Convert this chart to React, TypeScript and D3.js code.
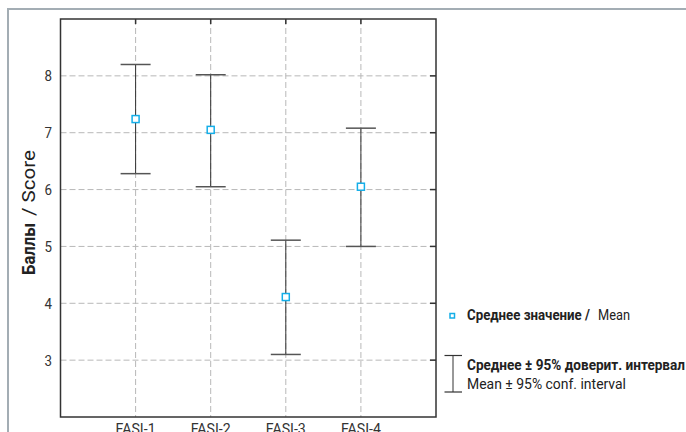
import { useRef, useEffect } from 'react';
import * as d3 from 'd3';

const categories = ['FASI-1', 'FASI-2', 'FASI-3', 'FASI-4'];
const means = [7.24, 7.05, 4.11, 6.05];
const upper = [8.2, 8.02, 5.11, 7.08];
const lower = [6.28, 6.05, 3.1, 5.0];
const yTicks = [3, 4, 5, 6, 7, 8];

const FONT = "Roboto, 'DejaVu Sans', sans-serif";

const App = () => {
  const svgRef = useRef<SVGSVGElement>(null);

  useEffect(() => {
    const svg = d3.select(svgRef.current);
    svg.selectAll('*').remove();
    const width = 686;
    const height = 432;
    const margin = { top: 19, left: 60.5 };
    const plotRight = 436;
    const plotBottom = 417;

    // outer panel frame
    svg.append('rect')
      .attr('x', 8).attr('y', 9)
      .attr('width', width + 10).attr('height', height + 10)
      .attr('fill', 'none')
      .attr('stroke', '#a3adb4')
      .attr('stroke-width', 2);

    const x = d3.scaleLinear()
      .domain([0, categories.length + 1])
      .range([margin.left, plotRight]);

    const y = d3.scaleLinear()
      .domain([2, 9])
      .range([plotBottom, margin.top]);

    const grid = svg.append('g')
      .attr('stroke', '#b8b8b8')
      .attr('stroke-width', 1)
      .attr('stroke-dasharray', '6,3');

    grid.selectAll('line.h')
      .data(yTicks)
      .join('line')
      .attr('class', 'h')
      .attr('x1', margin.left).attr('x2', plotRight)
      .attr('y1', d => y(d)).attr('y2', d => y(d));

    grid.selectAll('line.v')
      .data(categories)
      .join('line')
      .attr('class', 'v')
      .attr('x1', (d, i) => x(i + 1)).attr('x2', (d, i) => x(i + 1))
      .attr('y1', margin.top).attr('y2', plotBottom);

    // frame
    svg.append('rect')
      .attr('x', margin.left).attr('y', margin.top)
      .attr('width', plotRight - margin.left)
      .attr('height', plotBottom - margin.top)
      .attr('fill', 'none')
      .attr('stroke', '#333')
      .attr('stroke-width', 1.5);

    // inner ticks on top and right
    svg.append('g')
      .selectAll('line')
      .data(categories)
      .join('line')
      .attr('x1', (d, i) => x(i + 1)).attr('x2', (d, i) => x(i + 1))
      .attr('y1', margin.top).attr('y2', margin.top + 5)
      .attr('stroke', '#333').attr('stroke-width', 1.5);

    svg.append('g')
      .selectAll('line')
      .data(yTicks)
      .join('line')
      .attr('x1', plotRight - 6).attr('x2', plotRight)
      .attr('y1', d => y(d)).attr('y2', d => y(d))
      .attr('stroke', '#333').attr('stroke-width', 1.5);

    // y tick labels
    svg.append('g')
      .selectAll('text')
      .data(yTicks)
      .join('text')
      .attr('x', 52)
      .attr('y', d => y(d))
      .attr('dy', '0.36em')
      .attr('text-anchor', 'end')
      .attr('font-family', FONT)
      .attr('font-size', 15)
      .attr('textLength', 7.5)
      .attr('lengthAdjust', 'spacingAndGlyphs')
      .attr('fill', '#333')
      .text(d => d);

    // x labels (cut by the bottom edge as in the source)
    svg.append('g')
      .selectAll('text')
      .data(categories)
      .join('text')
      .attr('x', (d, i) => x(i + 1) - 20)
      .attr('y', 434)
      .attr('font-family', FONT)
      .attr('font-size', 14)
      .attr('textLength', 40)
      .attr('lengthAdjust', 'spacingAndGlyphs')
      .attr('fill', '#333')
      .text(d => d);

    // y axis title
    const yt = svg.append('g')
      .attr('transform', 'translate(35,275) rotate(-90)')
      .attr('font-family', FONT)
      .attr('font-size', 19)
      .attr('fill', '#222');
    yt.append('text').attr('x', 0).attr('font-weight', 'bold')
      .attr('textLength', 52).attr('lengthAdjust', 'spacingAndGlyphs')
      .text('Баллы');
    yt.append('text').attr('x', 59)
      .attr('textLength', 66).attr('lengthAdjust', 'spacingAndGlyphs')
      .text('/ Score');

    // error bars
    const bars = svg.append('g');
    bars.selectAll('line.stem')
      .data(categories)
      .join('line')
      .attr('class', 'stem')
      .attr('x1', (d, i) => x(i + 1)).attr('x2', (d, i) => x(i + 1))
      .attr('y1', (d, i) => y(upper[i])).attr('y2', (d, i) => y(lower[i]))
      .attr('stroke', '#333').attr('stroke-width', 1);

    [upper, lower].forEach(arr => {
      bars.append('g')
        .selectAll('line')
        .data(categories)
        .join('line')
        .attr('x1', (d, i) => x(i + 1) - 15).attr('x2', (d, i) => x(i + 1) + 15)
        .attr('y1', (d, i) => y(arr[i])).attr('y2', (d, i) => y(arr[i]))
        .attr('stroke', '#555').attr('stroke-width', 1.5);
    });

    // mean markers
    svg.append('g')
      .selectAll('rect')
      .data(means)
      .join('rect')
      .attr('x', (d, i) => x(i + 1) - 3.5)
      .attr('y', d => y(d) - 3.5)
      .attr('width', 7).attr('height', 7)
      .attr('fill', '#fff')
      .attr('stroke', '#14aee8')
      .attr('stroke-width', 1.5);

    // legend
    const lg = svg.append('g').attr('font-family', FONT).attr('font-size', 14.5).attr('fill', '#222');
    lg.append('rect')
      .attr('x', 450).attr('y', 313.5)
      .attr('width', 4.5).attr('height', 4.5)
      .attr('fill', '#fff').attr('stroke', '#14aee8').attr('stroke-width', 1.5);
    lg.append('text').attr('x', 467).attr('y', 320).attr('font-weight', 'bold')
      .attr('textLength', 123).attr('lengthAdjust', 'spacingAndGlyphs')
      .text('Среднее значение /');
    lg.append('text').attr('x', 598).attr('y', 320)
      .attr('textLength', 32).attr('lengthAdjust', 'spacingAndGlyphs')
      .text('Mean');

    lg.append('line').attr('x1', 453).attr('x2', 453).attr('y1', 355.5).attr('y2', 392)
      .attr('stroke', '#333').attr('stroke-width', 1);
    lg.append('line').attr('x1', 444.5).attr('x2', 462).attr('y1', 355.5).attr('y2', 355.5)
      .attr('stroke', '#333').attr('stroke-width', 1.2);
    lg.append('line').attr('x1', 444.5).attr('x2', 462).attr('y1', 392).attr('y2', 392)
      .attr('stroke', '#333').attr('stroke-width', 1.2);
    lg.append('text').attr('x', 467).attr('y', 369.5).attr('font-weight', 'bold')
      .attr('textLength', 218).attr('lengthAdjust', 'spacingAndGlyphs')
      .text('Среднее ± 95% доверит. интервал');
    lg.append('text').attr('x', 467).attr('y', 388.5)
      .attr('textLength', 159).attr('lengthAdjust', 'spacingAndGlyphs')
      .text('Mean ± 95% conf. interval');
  }, []);

  return (
    <svg ref={svgRef} width="686" height="432"
      style={{ position: 'absolute', left: 0, top: 0, display: 'block', background: '#fff' }} />
  );
};

export default App;
